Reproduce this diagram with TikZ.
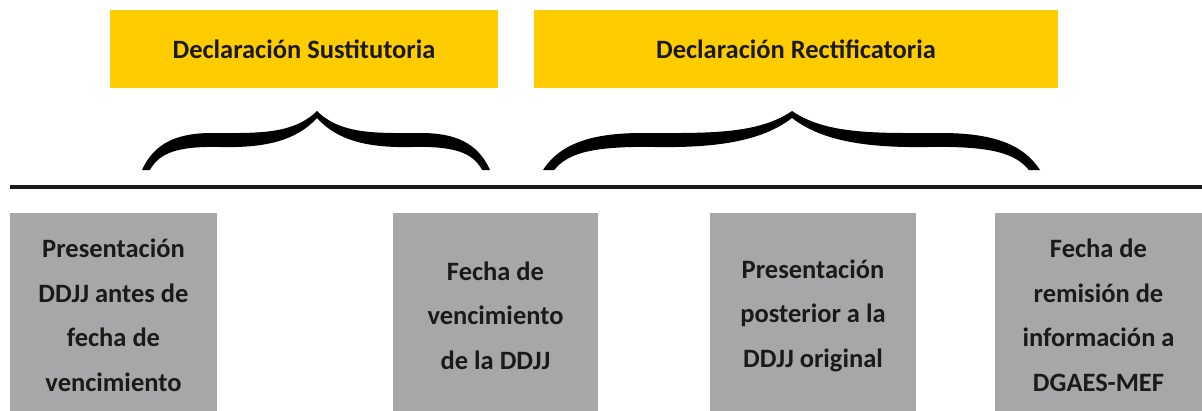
\documentclass[tikz,border=0pt]{standalone}
\usepackage{fontspec}
\setmainfont{Carlito}
\definecolor{gold}{HTML}{FFCC00}
\definecolor{boxgray}{HTML}{A7A7A9}
\definecolor{ink}{HTML}{1A1A1A}
\tikzset{
  titlebox/.style={fill=gold, draw=none, minimum height=78pt, inner sep=0pt,
    font=\fontsize{26.5}{32}\selectfont\bfseries, text=ink},
  graybox/.style={fill=boxgray, draw=none, minimum height=205pt, inner sep=0pt,
    align=center, font=\fontsize{26.5}{44.5}\selectfont\bfseries, text=ink},
  bracefill/.style={fill=black, draw=none}
}
\newcommand{\halfbrace}{%
  (0,170) .. controls (0.07,143) and (0.2,133) .. (0.4,133)
  .. controls (0.65,133) and (0.86,135) .. (1,111) -- (1,118)
  .. controls (0.88,141) and (0.7,148) .. (0.45,147)
  .. controls (0.2,146) and (0.1,153) .. (0.045,170) -- cycle}
\begin{document}
\begin{tikzpicture}[x=1pt,y=-1pt]
\useasboundingbox (0,0) rectangle (1202,410);
\node[titlebox, minimum width=388pt] (sust) at (304,49) {Declaración Sustitutoria};
\node[titlebox, minimum width=524pt] (rect) at (796,49) {Declaración Rectificatoria};
% braces
\begin{scope}[shift={(142,0)}, xscale=175]
  \fill[bracefill] \halfbrace;
\end{scope}
\begin{scope}[shift={(490,0)}, xscale=-173]
  \fill[bracefill] \halfbrace;
\end{scope}
\begin{scope}[shift={(543,0)}, xscale=249]
  \fill[bracefill] \halfbrace;
\end{scope}
\begin{scope}[shift={(1040,0)}, xscale=-248]
  \fill[bracefill] \halfbrace;
\end{scope}
% timeline
\coordinate (tl) at (10,187);
\coordinate (tr) at (1202,187);
\draw[line width=3.5pt, ink] (tl) -- (tr);
% gray boxes (extend below the page edge so text sits slightly low)
\node[graybox, minimum width=207pt] (b1) at (113.5,315.5)
  {Presentación\\DDJJ antes de\\fecha de\\vencimiento};
\node[graybox, minimum width=205pt] (b2) at (495.5,315.5)
  {Fecha de\\vencimiento\\de la DDJJ};
\node[graybox, minimum width=206pt] (b3) at (813,315.5)
  {Presentación\\posterior a la\\DDJJ original};
\node[graybox, minimum width=207pt] (b4) at (1098.5,315.5)
  {Fecha de\\remisión de\\información a\\DGAES-MEF};
\end{tikzpicture}
\end{document}
